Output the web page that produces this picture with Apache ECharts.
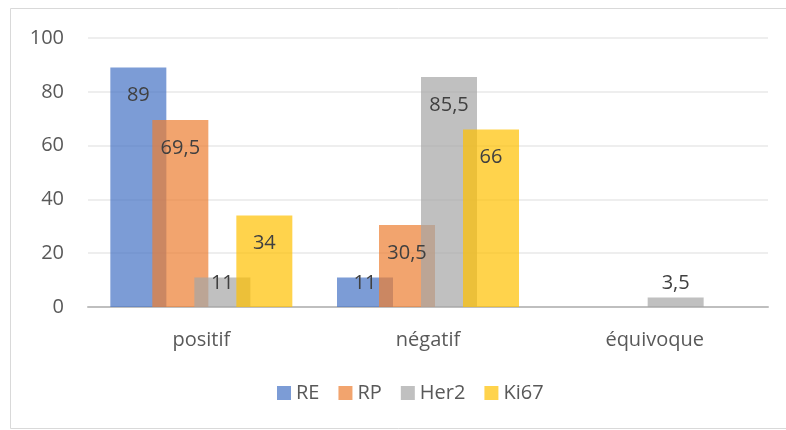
<!DOCTYPE html>
<html>
<head>
<meta charset="utf-8">
<script src="https://cdn.jsdelivr.net/npm/echarts@6/dist/echarts.min.js"></script>
<style>
  html, body { margin: 0; padding: 0; background: #fff; }
  #chart { width: 786px; height: 430px; }
</style>
</head>
<body>
<div id="chart"></div>
<script>
// categories and values
const categories = ["positif", "négatif", "équivoque"];
const seriesNames = ["RE", "RP", "Her2", "Ki67"];
const reValues = [89, 11, null];
const rpValues = [69.5, 30.5, null];
const her2Values = [11, 85.5, 3.5];
const ki67Values = [34, 66, null];
const yTicks = { min: 0, max: 100, interval: 20 };

// Excel office colours at 70% so overlaps show through
const colors = ["rgba(68,114,196,0.7)", "rgba(237,125,49,0.7)", "rgba(165,165,165,0.7)", "rgba(255,192,0,0.7)"];
const allValues = [reValues, rpValues, her2Values, ki67Values];
const font = "Open Sans";

// build bar data, small bars get their label near the axis like Excel does
function toData(values) {
    return values.map(v => {
        if (v === null) return "-";
        if (v < 15) {
            return { value: v, label: { position: "insideBottom", distance: 14 } };
        }
        return v;
    });
}

const chart = echarts.init(document.getElementById("chart"));

const option = {
    animation: false,
    textStyle: { fontFamily: font },
    grid: { left: 88, right: 18, top: 38, bottom: 123 },
    legend: {
        data: seriesNames,
        bottom: 22,
        left: 272,
        icon: "rect",
        itemWidth: 14,
        itemHeight: 14,
        itemGap: 19,
        textStyle: { fontFamily: font, fontSize: 20, color: "#595959" }
    },
    xAxis: {
        type: "category",
        data: categories,
        axisTick: { show: false },
        axisLine: { lineStyle: { color: "#BFBFBF", width: 2 } },
        axisLabel: { fontFamily: font, fontSize: 20, color: "#595959", margin: 23 }
    },
    yAxis: {
        type: "value",
        min: yTicks.min,
        max: yTicks.max,
        interval: yTicks.interval,
        axisLine: { show: false },
        axisTick: { show: false },
        axisLabel: { fontFamily: font, fontSize: 20, color: "#595959", margin: 24 },
        splitLine: { lineStyle: { color: "#E9E9E9", width: 1.5 } }
    },
    series: seriesNames.map((name, i) => ({
        name: name,
        type: "bar",
        data: toData(allValues[i]),
        barWidth: 56,
        barGap: "-25%",
        itemStyle: { color: colors[i] },
        label: {
            show: true,
            position: "insideTop",
            distance: 18,
            fontFamily: font,
            fontSize: 20,
            color: "#404040",
            formatter: p => String(p.value).replace(".", ",")
        }
    })),
    graphic: [{
        type: "rect",
        shape: { x: 10.5, y: 8.5, width: 790, height: 420 },
        style: { fill: "none", stroke: "#D9D9D9", lineWidth: 1 },
        silent: true,
        z: -1
    }]
};

chart.setOption(option);
</script>
</body>
</html>
